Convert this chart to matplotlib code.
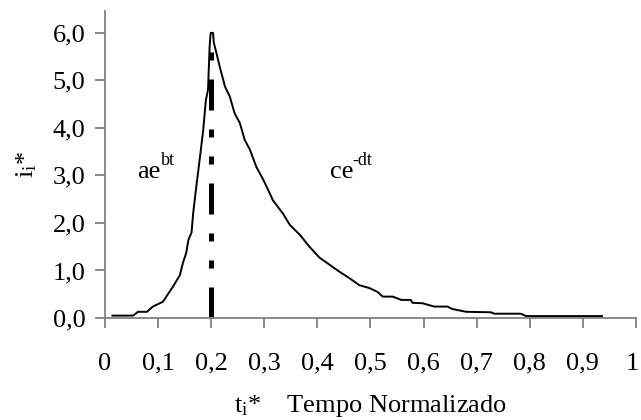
import matplotlib
matplotlib.use("Agg")
import matplotlib.pyplot as plt
from matplotlib.transforms import offset_copy

# Curva de corriente normalizada
t_norm = [0.014, 0.053, 0.062, 0.079, 0.09, 0.109, 0.128, 0.141, 0.147, 0.153,
          0.157, 0.163, 0.166, 0.172, 0.179, 0.185, 0.19, 0.194, 0.197, 0.199,
          0.2035, 0.205, 0.21, 0.216, 0.226, 0.235, 0.244, 0.254, 0.263, 0.273,
          0.285, 0.298, 0.31, 0.316, 0.335, 0.348, 0.367, 0.385, 0.404, 0.423,
          0.442, 0.46, 0.479, 0.498, 0.513, 0.523, 0.542, 0.558, 0.576, 0.579,
          0.598, 0.62, 0.645, 0.654, 0.68, 0.727, 0.733, 0.783, 0.793, 0.936]
i_norm = [0.05, 0.05, 0.13, 0.13, 0.24, 0.34, 0.66, 0.9, 1.17, 1.37,
          1.64, 1.8, 2.2, 2.77, 3.4, 3.96, 4.59, 4.8, 5.7, 6.0,
          6.0, 5.79, 5.57, 5.29, 4.87, 4.66, 4.31, 4.1, 3.75, 3.54,
          3.18, 2.91, 2.63, 2.48, 2.2, 1.96, 1.75, 1.5, 1.27, 1.12,
          0.97, 0.84, 0.69, 0.63, 0.55, 0.45, 0.45, 0.38, 0.38, 0.32,
          0.31, 0.24, 0.24, 0.19, 0.13, 0.12, 0.09, 0.09, 0.04, 0.04]

# Línea vertical del pico
t_pico = 0.2
i_pico_top = 5.68

x_ticks = [0, 0.1, 0.2, 0.3, 0.4, 0.5, 0.6, 0.7, 0.8, 0.9, 1.0]
x_labels = ["0", "0,1", "0,2", "0,3", "0,4", "0,5", "0,6", "0,7", "0,8", "0,9", "1"]
y_ticks = [0, 1, 2, 3, 4, 5, 6]
y_labels = ["0,0", "1,0", "2,0", "3,0", "4,0", "5,0", "6,0"]

plt.rcParams['font.family'] = ['Liberation Serif', 'DejaVu Serif']
plt.rcParams['mathtext.fontset'] = 'custom'
plt.rcParams['mathtext.rm'] = 'Liberation Serif'
plt.rcParams['mathtext.it'] = 'Liberation Serif:italic'

fig = plt.figure(figsize=(6.41, 4.20), dpi=100)
ax = fig.add_axes([0.1638, 0.2429, 0.8284, 0.7309])

ax.plot(t_norm, i_norm, color='black', lw=1.4)
ax.plot([t_pico, t_pico], [0, i_pico_top], color='black', lw=3.6,
        linestyle=(0, (6.2, 3.8, 1.6, 3.8, 1.6, 3.8)), dash_capstyle='butt')

ax.set_xlim(0, 1)
ax.set_ylim(0, 6.46)
ax.set_xticks(x_ticks)
ax.set_xticklabels(x_labels)
ax.set_yticks(y_ticks)
ax.set_yticklabels(y_labels)

for s in ['top', 'right']:
    ax.spines[s].set_visible(False)
for s in ['left', 'bottom']:
    ax.spines[s].set_color('#808080')
    ax.spines[s].set_linewidth(1.3)

ax.tick_params(axis='both', direction='out', color='#808080', width=1.3,
               length=7, labelsize=19)
ax.tick_params(axis='x', pad=18)
ax.tick_params(axis='y', pad=7)

# el último rótulo ("1") queda pegado al borde: se corre unos px a la izquierda
ultimo = ax.get_xticklabels()[-1]
ultimo.set_transform(offset_copy(ultimo.get_transform(), fig=fig, x=-4, y=0, units='dots'))

# Textos de las funciones (superíndices como texto aparte)
ax.text(0.06, 2.95, 'ae', fontsize=19)
ax.text(0.06, 2.95, 'bt', fontsize=13,
        transform=offset_copy(ax.transData, fig=fig, x=17, y=9, units='points'))
ax.text(0.423, 2.95, 'ce', fontsize=19)
ax.text(0.423, 2.95, '-dt', fontsize=13,
        transform=offset_copy(ax.transData, fig=fig, x=16.5, y=9, units='points'))

ax.set_xlabel(r't$_\mathregular{i}$*    Tempo Normalizado', fontsize=19, labelpad=13)
ax.set_ylabel(r'i$_\mathregular{i}$*', fontsize=19, labelpad=10)

fig.savefig('out.png', dpi=100)
